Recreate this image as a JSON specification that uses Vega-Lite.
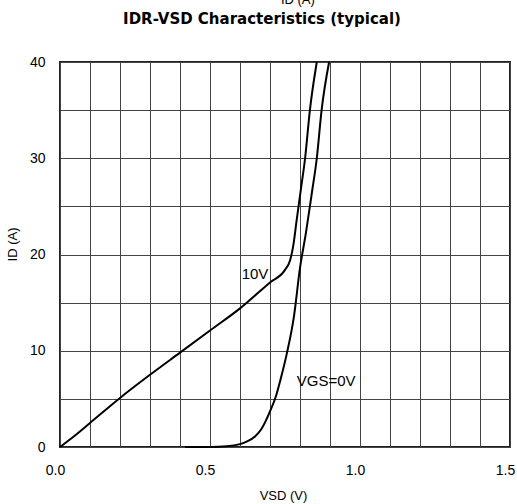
{
  "$schema": "https://vega.github.io/schema/vega-lite/v6.json",
  "width": 450,
  "height": 385,
  "autosize": "none",
  "padding": {"left": 60, "top": 62, "right": 7, "bottom": 57},
  "background": "white",
  "config": {
    "view": {"stroke": "#222", "strokeWidth": 2},
    "font": "Liberation Sans"
  },
  "title": {
    "text": "IDR-VSD Characteristics (typical)",
    "font": "DejaVu Sans",
    "fontSize": 15,
    "fontWeight": "bold",
    "color": "#000",
    "anchor": "middle",
    "frame": "group",
    "dx": -23,
    "offset": -33
  },
  "datasets": {
    "curves": [
      {"series": "10V", "vsd": 0.0, "id": 0.0},
      {"series": "10V", "vsd": 0.05, "id": 1.2},
      {"series": "10V", "vsd": 0.1, "id": 2.5},
      {"series": "10V", "vsd": 0.2, "id": 5.1},
      {"series": "10V", "vsd": 0.3, "id": 7.5},
      {"series": "10V", "vsd": 0.4, "id": 9.8},
      {"series": "10V", "vsd": 0.5, "id": 12.1},
      {"series": "10V", "vsd": 0.6, "id": 14.4},
      {"series": "10V", "vsd": 0.7, "id": 17.1},
      {"series": "10V", "vsd": 0.75, "id": 18.4},
      {"series": "10V", "vsd": 0.767, "id": 19.4},
      {"series": "10V", "vsd": 0.778, "id": 21.0},
      {"series": "10V", "vsd": 0.789, "id": 23.6},
      {"series": "10V", "vsd": 0.803, "id": 26.8},
      {"series": "10V", "vsd": 0.817, "id": 30.0},
      {"series": "10V", "vsd": 0.833, "id": 35.0},
      {"series": "10V", "vsd": 0.856, "id": 40.0},
      {"series": "0V", "vsd": 0.417, "id": 0.0},
      {"series": "0V", "vsd": 0.5, "id": 0.0},
      {"series": "0V", "vsd": 0.556, "id": 0.07},
      {"series": "0V", "vsd": 0.6, "id": 0.3},
      {"series": "0V", "vsd": 0.622, "id": 0.55},
      {"series": "0V", "vsd": 0.65, "id": 1.1},
      {"series": "0V", "vsd": 0.672, "id": 1.9},
      {"series": "0V", "vsd": 0.7, "id": 3.7},
      {"series": "0V", "vsd": 0.72, "id": 5.3},
      {"series": "0V", "vsd": 0.735, "id": 7.0},
      {"series": "0V", "vsd": 0.756, "id": 9.7},
      {"series": "0V", "vsd": 0.78, "id": 13.6},
      {"series": "0V", "vsd": 0.8, "id": 18.6},
      {"series": "0V", "vsd": 0.82, "id": 22.3},
      {"series": "0V", "vsd": 0.84, "id": 26.5},
      {"series": "0V", "vsd": 0.856, "id": 30.0},
      {"series": "0V", "vsd": 0.872, "id": 35.0},
      {"series": "0V", "vsd": 0.897, "id": 40.0}
    ],
    "labels": [
      {"label": "10V", "vsd": 0.65, "id": 18.0},
      {"label": "VGS=0V", "vsd": 0.887, "id": 6.86}
    ],
    "top": [
      {"label": "ID (A)", "vsd": 0.793, "id": 46.03}
    ]
  },
  "encoding": {
    "x": {
      "field": "vsd", "type": "quantitative",
      "scale": {"domain": [0, 1.5], "nice": false, "zero": false},
      "axis": {
        "values": [0, 0.1, 0.2, 0.3, 0.4, 0.5, 0.6, 0.7, 0.8, 0.9, 1.0, 1.1, 1.2, 1.3, 1.4, 1.5],
        "format": ".1f",
        "labelExpr": "abs(datum.value*2 - round(datum.value*2)) < 0.001 ? datum.label : ''",
        "labelOverlap": false, "labelFlush": false, "labelBound": false,
        "labelOffset": -5,
        "grid": true, "gridColor": "#444", "gridWidth": 1, "gridOpacity": 1,
        "domain": false, "ticks": false,
        "labelFont": "Liberation Sans", "labelFontSize": 14, "labelColor": "#000",
        "labelPadding": 16,
        "title": "VSD (V)", "titleFont": "Liberation Sans", "titleFontSize": 13,
        "titleFontWeight": "normal", "titleColor": "#000",
        "titleX": 223, "titleY": 48, "titleBaseline": "middle"
      }
    },
    "y": {
      "field": "id", "type": "quantitative",
      "scale": {"domain": [0, 40], "nice": false},
      "axis": {
        "values": [0, 5, 10, 15, 20, 25, 30, 35, 40],
        "labelExpr": "datum.value % 10 === 0 ? datum.label : ''",
        "labelOverlap": false, "labelFlush": false, "labelBound": false,
        "grid": true, "gridColor": "#444", "gridWidth": 1, "gridOpacity": 1,
        "domain": false, "ticks": false,
        "labelFont": "Liberation Sans", "labelFontSize": 14, "labelColor": "#000",
        "labelPadding": 15,
        "title": "ID (A)", "titleFont": "Liberation Sans", "titleFontSize": 13,
        "titleFontWeight": "normal", "titleColor": "#000",
        "titleX": -48, "titleY": 182, "titleAngle": 270, "titleBaseline": "middle"
      }
    }
  },
  "layer": [
    {
      "data": {"name": "curves"},
      "mark": {"type": "line", "color": "#000", "strokeWidth": 2, "interpolate": "monotone"},
      "encoding": {
        "detail": {"field": "series"}
      }
    },
    {
      "data": {"name": "labels"},
      "mark": {"type": "text", "font": "Liberation Sans", "fontSize": 15, "color": "#000", "baseline": "middle", "align": "center"},
      "encoding": {
        "text": {"field": "label"}
      }
    },
    {
      "data": {"name": "top"},
      "mark": {"type": "text", "font": "Liberation Sans", "fontSize": 13, "color": "#000", "baseline": "alphabetic", "align": "center"},
      "encoding": {
        "text": {"field": "label"}
      }
    }
  ]
}
